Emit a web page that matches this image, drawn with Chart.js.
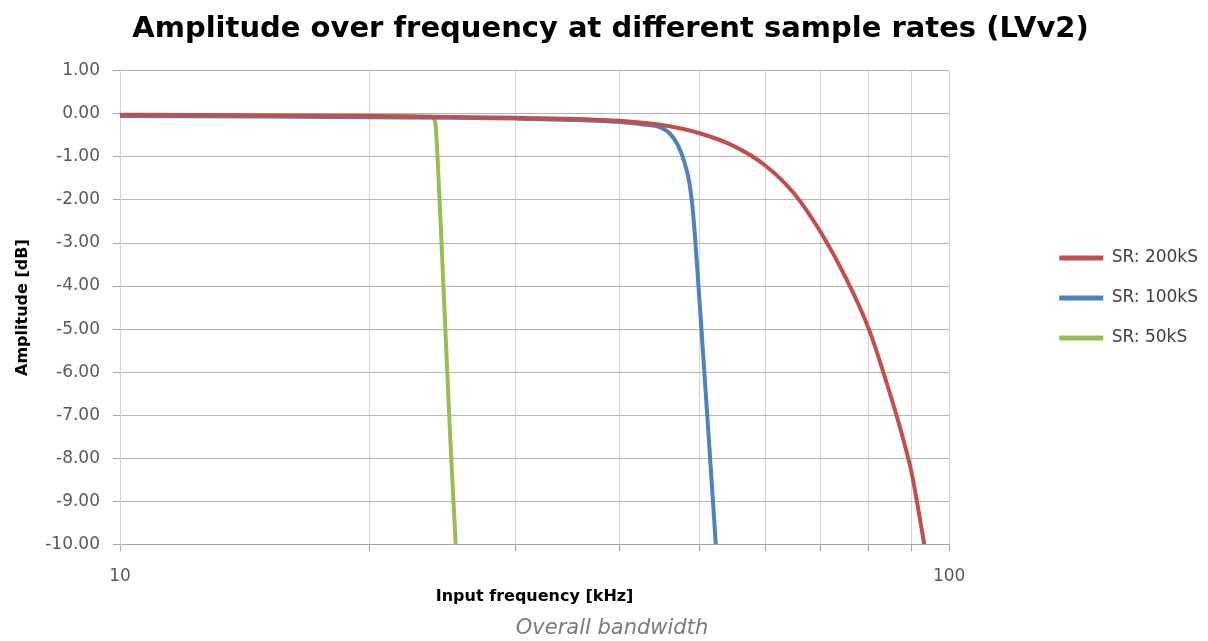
<!DOCTYPE html>
<html>
<head>
<meta charset="utf-8">
<title>Amplitude over frequency</title>
<script src="https://cdn.jsdelivr.net/npm/chart.js@4/dist/chart.umd.min.js"></script>
<style>
  html, body { margin: 0; padding: 0; background: #fff; }
  #wrap { position: relative; width: 1208px; height: 641px; }
  #caption {
    position: absolute; left: 8px; width: 1208px; top: 615px; line-height: 24px;
    text-align: center; font-family: "DejaVu Sans", sans-serif;
    font-style: italic; font-size: 21px; color: #7a7a7a;
  }
</style>
</head>
<body>
<div id="wrap">
  <canvas id="bwChart"></canvas>
  <div id="caption">Overall bandwidth</div>
</div>
<script>
// Measured response per sample rate (frequency in kHz, amplitude in dB)
const seriesLabels = ['SR: 200kS', 'SR: 100kS', 'SR: 50kS'];
const seriesColors = ['#c0504d', '#4f81bd', '#9bbb59'];

const freq200 = [10, 20, 30, 40, 45, 50, 55, 60, 65, 70, 75, 80, 85, 88, 90, 92, 93.3];
const amp200  = [-0.02, -0.05, -0.09, -0.16, -0.26, -0.45, -0.75, -1.2, -1.85, -2.75, -3.8, -5.0, -6.55, -7.55, -8.3, -9.3, -10];

const freq100 = [10, 15, 20, 25, 30, 35, 40, 42.5, 44.9, 46.0, 47.0, 47.9, 48.6, 49.1, 49.6, 50.5, 51.4, 52.3];
const amp100  = [-0.05, -0.06, -0.08, -0.09, -0.11, -0.14, -0.19, -0.24, -0.32, -0.45, -0.7, -1.1, -1.6, -2.3, -3.4, -5.6, -7.8, -10];

const freq50 = [10, 15, 20, 22, 23.7, 24.0, 24.15, 24.55, 25.0, 25.4];
const amp50  = [-0.05, -0.05, -0.04, -0.05, -0.07, -0.2, -1.0, -4.0, -7.4, -10];

// gridlines on the log axis, only the decades get a label
const xGrid = [10, 20, 30, 40, 50, 60, 70, 80, 90, 100];
const xLabelled = [10, 100];
const yMin = -10;
const yMax = 1;

function toPoints(xs, ys) {
  return xs.map((x, i) => ({ x: x, y: ys[i] }));
}

const seriesData = [toPoints(freq200, amp200), toPoints(freq100, amp100), toPoints(freq50, amp50)];

const fontFamily = '"DejaVu Sans", sans-serif';
const tickFont = { family: fontFamily, size: 17 };
const axisTitleFont = { family: fontFamily, size: 16, weight: 'bold' };

const ctx = document.getElementById('bwChart');

new Chart(ctx, {
  type: 'line',
  data: {
    datasets: seriesLabels.map((label, i) => ({
      label: label,
      data: seriesData[i],
      borderColor: seriesColors[i],
      backgroundColor: seriesColors[i],
      borderWidth: 4,
      pointRadius: 0,
      cubicInterpolationMode: 'monotone',
      fill: false
    }))
  },
  options: {
    responsive: true,
    maintainAspectRatio: false,
    animation: false,
    layout: {
      padding: { left: 13, right: 0, top: -10, bottom: 35 }
    },
    scales: {
      x: {
        type: 'logarithmic',
        min: 10,
        max: 100,
        afterBuildTicks: scale => {
          scale.ticks = xGrid.map(v => ({ value: v }));
        },
        grid: { color: '#d4d4d4', lineWidth: 1, tickLength: 7, tickColor: '#a6a6a6' },
        border: { color: '#a6a6a6' },
        ticks: {
          color: '#595959',
          font: tickFont,
          padding: 15,
          maxRotation: 0,
          autoSkip: false,
          callback: value => xLabelled.includes(value) ? String(value) : ''
        },
        title: {
          display: true,
          text: 'Input frequency [kHz]',
          color: '#000',
          font: axisTitleFont,
          padding: { top: -15, bottom: 0 }
        }
      },
      y: {
        min: yMin,
        max: yMax,
        grid: { color: '#b5b5b5', lineWidth: 1, tickLength: 7, tickColor: '#a6a6a6' },
        border: { color: '#d4d4d4' },
        ticks: {
          stepSize: 1,
          color: '#595959',
          font: tickFont,
          padding: 13,
          callback: value => value.toFixed(2)
        },
        title: {
          display: true,
          text: 'Amplitude [dB]',
          color: '#000',
          font: axisTitleFont,
          padding: { top: 0, bottom: 0 }
        }
      },
      // empty spacer axis between the plot and the legend
      gap: {
        position: 'right',
        display: true,
        grid: { display: false, drawTicks: false },
        border: { display: false },
        ticks: { display: false },
        afterFit: scale => { scale.width = 87; }
      }
    },
    plugins: {
      title: {
        display: true,
        text: 'Amplitude over frequency at different sample rates (LVv2)',
        color: '#000',
        font: { family: fontFamily, size: 29, weight: 'bold' },
        padding: { top: 22, bottom: 24 }
      },
      legend: {
        position: 'right',
        labels: {
          color: '#404040',
          font: { family: fontFamily, size: 17 },
          boxWidth: 44,
          boxHeight: 5,
          padding: 23,
          useBorderRadius: true,
          borderRadius: 2,
          generateLabels: chart => chart.data.datasets.map((ds, i) => ({
            text: ds.label,
            fillStyle: ds.borderColor,
            strokeStyle: ds.borderColor,
            lineWidth: 0,
            fontColor: '#404040',
            datasetIndex: i,
            hidden: false
          }))
        }
      },
      tooltip: { enabled: false }
    }
  }
});
</script>
</body>
</html>
